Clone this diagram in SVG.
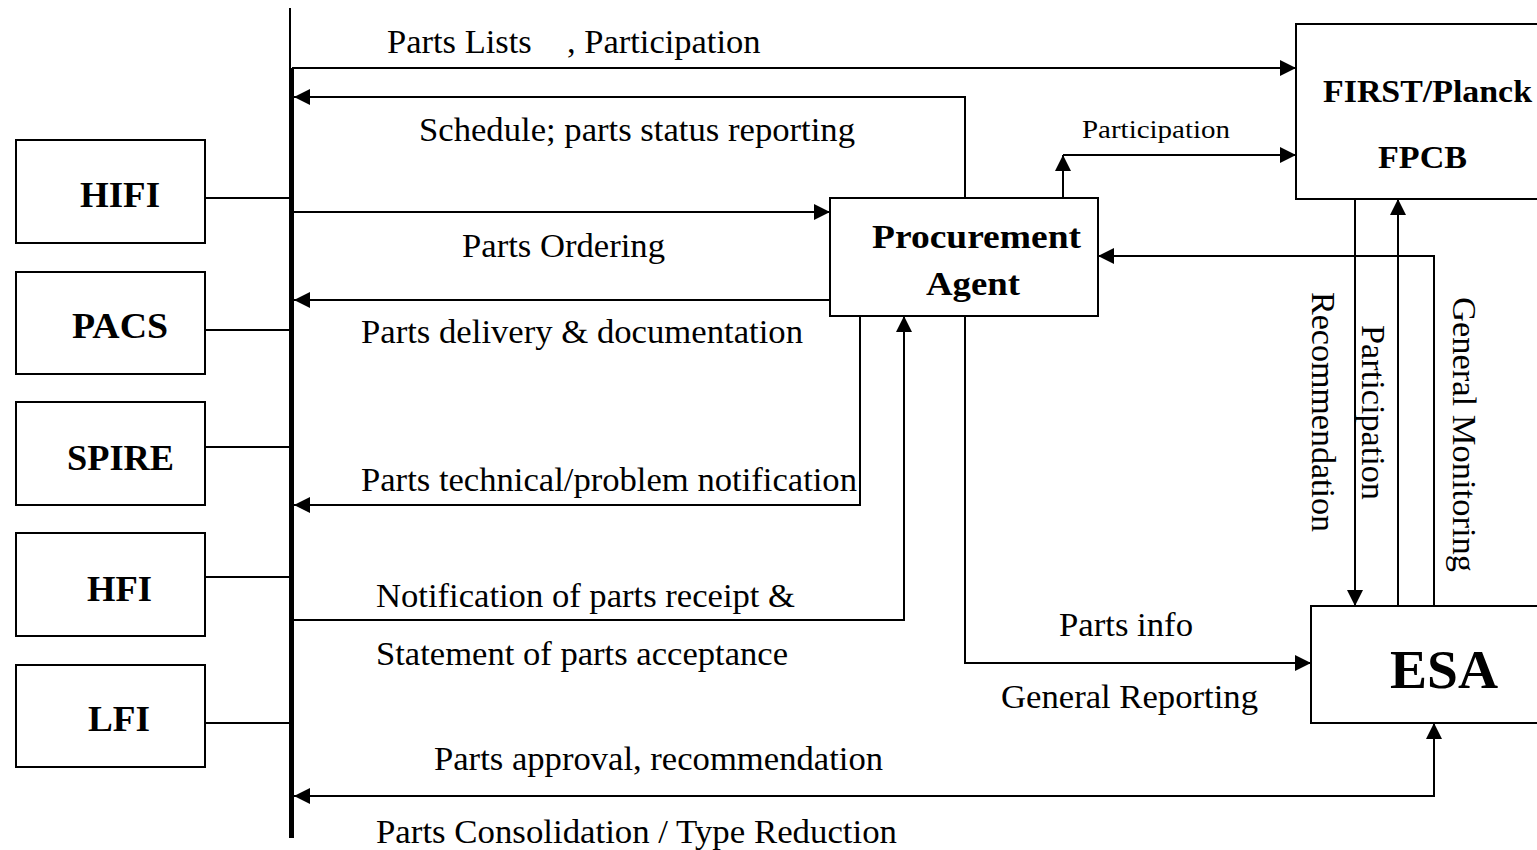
<svg xmlns="http://www.w3.org/2000/svg" width="1537" height="850" viewBox="0 0 1537 850">
<style>
.box{fill:#fff;stroke:#000;stroke-width:2}
.ln{fill:none;stroke:#000;stroke-width:2}
.t{font-family:"Liberation Serif","Times New Roman",serif;font-size:33px;fill:#000}
.b{font-family:"Liberation Serif","Times New Roman",serif;font-size:36px;font-weight:bold;fill:#000}
</style>
<defs>
<marker id="ah" markerUnits="userSpaceOnUse" markerWidth="16" markerHeight="16" refX="16" refY="8" orient="auto-start-reverse" viewBox="0 0 16 16">
<path d="M0,0 L16,8 L0,16 z" fill="#000"/>
</marker>
</defs>
<rect width="1537" height="850" fill="#fff"/>

<g id="bus">
<path class="ln" d="M290,8 V68"/>
<path d="M291.5,68 V838" stroke="#000" stroke-width="5" fill="none"/>
</g>

<g id="HIFI"><rect class="box" x="16" y="140" width="189" height="103"/><text class="b" x="80" y="207" textLength="80" lengthAdjust="spacingAndGlyphs">HIFI</text></g>
<g id="PACS"><rect class="box" x="16" y="272" width="189" height="102"/><text class="b" x="72" y="338" textLength="96" lengthAdjust="spacingAndGlyphs">PACS</text></g>
<g id="SPIRE"><rect class="box" x="16" y="402" width="189" height="103"/><text class="b" x="67" y="470" textLength="107" lengthAdjust="spacingAndGlyphs">SPIRE</text></g>
<g id="HFI"><rect class="box" x="16" y="533" width="189" height="103"/><text class="b" x="87" y="601" textLength="65" lengthAdjust="spacingAndGlyphs">HFI</text></g>
<g id="LFI"><rect class="box" x="16" y="665" width="189" height="102"/><text class="b" x="88" y="731" textLength="62" lengthAdjust="spacingAndGlyphs">LFI</text></g>

<g id="procurement"><rect class="box" x="830" y="198" width="268" height="118"/>
<text class="b" x="872" y="248" style="font-size:33px" textLength="209" lengthAdjust="spacingAndGlyphs">Procurement</text>
<text class="b" x="926" y="295" style="font-size:33px" textLength="94" lengthAdjust="spacingAndGlyphs">Agent</text></g>

<g id="fpcb"><rect class="box" x="1296" y="24" width="250" height="175"/>
<text class="b" x="1323" y="102" style="font-size:31px" textLength="209" lengthAdjust="spacingAndGlyphs">FIRST/Planck</text>
<text class="b" x="1378" y="168" style="font-size:31px" textLength="89" lengthAdjust="spacingAndGlyphs">FPCB</text></g>

<g id="esa"><rect class="box" x="1311" y="606" width="235" height="117"/>
<text class="b" x="1390" y="688" style="font-size:54px" textLength="108" lengthAdjust="spacingAndGlyphs">ESA</text></g>

<g id="connectors">
<path class="ln" d="M205,198 H290"/>
<path class="ln" d="M205,330 H290"/>
<path class="ln" d="M205,447 H290"/>
<path class="ln" d="M205,577 H290"/>
<path class="ln" d="M205,723 H290"/>
<path class="ln" d="M292,68 H1296" marker-end="url(#ah)"/>
<path class="ln" d="M965,198 V97 H294" marker-end="url(#ah)"/>
<path class="ln" d="M1063,198 V155" marker-end="url(#ah)"/>
<path class="ln" d="M1063,155 H1296" marker-end="url(#ah)"/>
<path class="ln" d="M294,212 H830" marker-end="url(#ah)"/>
<path class="ln" d="M830,300 H294" marker-end="url(#ah)"/>
<path class="ln" d="M860,316 V505 H294" marker-end="url(#ah)"/>
<path class="ln" d="M294,620 H904 V316" marker-end="url(#ah)"/>
<path class="ln" d="M1434,606 V256 H1098" marker-end="url(#ah)"/>
<path class="ln" d="M965,316 V663 H1311" marker-end="url(#ah)"/>
<path class="ln" d="M1355,199 V606" marker-end="url(#ah)"/>
<path class="ln" d="M1398,606 V199" marker-end="url(#ah)"/>
<path class="ln" d="M294,796 H1434 V723" marker-start="url(#ah)" marker-end="url(#ah)"/>
</g>

<g id="labels">
<text class="t" y="53" style="font-size:34.5px"><tspan x="387">Parts Lists</tspan><tspan x="567">, Participation</tspan></text>
<text class="t" x="419" y="141" textLength="436" lengthAdjust="spacingAndGlyphs">Schedule; parts status reporting</text>
<text class="t" x="1082" y="138" style="font-size:25px" textLength="148" lengthAdjust="spacingAndGlyphs">Participation</text>
<text class="t" x="462" y="257" textLength="203" lengthAdjust="spacingAndGlyphs">Parts Ordering</text>
<text class="t" x="361" y="343" textLength="442" lengthAdjust="spacingAndGlyphs">Parts delivery &amp; documentation</text>
<text class="t" x="361" y="491" textLength="496" lengthAdjust="spacingAndGlyphs">Parts technical/problem notification</text>
<text class="t" x="376" y="607" textLength="419" lengthAdjust="spacingAndGlyphs">Notification of parts receipt &amp;</text>
<text class="t" x="376" y="665" textLength="412" lengthAdjust="spacingAndGlyphs">Statement of parts acceptance</text>
<text class="t" x="1059" y="636" textLength="134" lengthAdjust="spacingAndGlyphs">Parts info</text>
<text class="t" x="1001" y="708" textLength="257" lengthAdjust="spacingAndGlyphs">General Reporting</text>
<text class="t" x="434" y="770" textLength="449" lengthAdjust="spacingAndGlyphs">Parts approval, recommendation</text>
<text class="t" x="376" y="843" textLength="521" lengthAdjust="spacingAndGlyphs">Parts Consolidation / Type Reduction</text>
<text class="t" transform="translate(1312,292) rotate(90)" textLength="240" lengthAdjust="spacingAndGlyphs">Recommendation</text>
<text class="t" transform="translate(1362,325) rotate(90)" textLength="175" lengthAdjust="spacingAndGlyphs">Participation</text>
<text class="t" transform="translate(1453,297) rotate(90)" textLength="275" lengthAdjust="spacingAndGlyphs">General Monitoring</text>
</g>
</svg>
